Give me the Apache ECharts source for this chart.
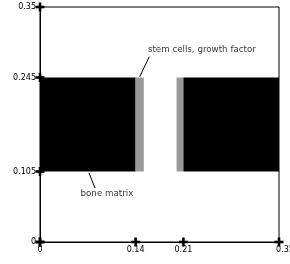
<!DOCTYPE html>
<html>
<head>
<meta charset="utf-8">
<script src="https://cdn.jsdelivr.net/npm/echarts@6/dist/echarts.min.js"></script>
<style>
  html, body { margin: 0; padding: 0; background: #fff; }
  #main { width: 290px; height: 264px; }
</style>
</head>
<body>
<div id="main"></div>
<script>
// tick positions on the two axes
var xTicks = [0, 0.14, 0.21, 0.35];
var yTicks = [0, 0.105, 0.245, 0.35];

// layered blocks: [x start, x end, y bottom, y top, kind]
var blocks = [
    [0, 0.14, 0.105, 0.245, 'matrix'],
    [0.14, 0.152, 0.105, 0.245, 'cells'],
    [0.2, 0.21, 0.105, 0.245, 'cells'],
    [0.21, 0.35, 0.105, 0.245, 'matrix']
];

// annotations: text, anchor of text, leader line start/end
var notes = [
    { text: 'stem cells, growth factor', at: [0.158, 0.286], from: [0.160, 0.276], to: [0.146, 0.246], pos: 'right' },
    { text: 'bone matrix', at: [0.098, 0.0715], from: [0.0805, 0.0805], to: [0.0717, 0.103], pos: 'inside' }
];

var colors = { matrix: '#000000', cells: '#999999' };
var font = 'DejaVu Sans';

var tickMarks = xTicks.map(function (x) { return [x, 0]; })
    .concat(yTicks.map(function (y) { return [0, y]; }));

var series = [{
    type: 'custom',
    data: blocks,
    renderItem: function (params, api) {
        var p0 = api.coord([api.value(0), api.value(3)]);
        var p1 = api.coord([api.value(1), api.value(2)]);
        return {
            type: 'rect',
            shape: { x: p0[0], y: p0[1], width: p1[0] - p0[0], height: p1[1] - p0[1] },
            style: { fill: colors[blocks[params.dataIndex][4]] }
        };
    },
    z: 2
}];

notes.forEach(function (n) {
    series.push({
        type: 'line',
        data: [n.from, n.to],
        symbol: 'none',
        lineStyle: { color: '#000', width: 1 },
        z: 3
    });
    series.push({
        type: 'scatter',
        data: [n.at],
        symbolSize: 0,
        label: {
            show: true,
            position: n.pos,
            distance: 0,
            formatter: n.text,
            color: '#000',
            fontFamily: font,
            fontSize: 8.7
        },
        z: 3
    });
});

// "+" tick marks
series.push({
    type: 'custom',
    data: tickMarks,
    clip: false,
    renderItem: function (params, api) {
        var c = api.coord([api.value(0), api.value(1)]);
        var h = 4.5, t = 1.3;
        return {
            type: 'group',
            children: [
                { type: 'rect', shape: { x: c[0] - h, y: c[1] - t, width: 2 * h, height: 2 * t }, style: { fill: '#000' } },
                { type: 'rect', shape: { x: c[0] - t, y: c[1] - h, width: 2 * t, height: 2 * h }, style: { fill: '#000' } }
            ]
        };
    },
    z: 5
});

var option = {
    animation: false,
    grid: {
        left: 40, top: 7, right: 11, bottom: 22,
        outerBoundsMode: 'none',
        show: true, borderColor: '#000', borderWidth: 1
    },
    xAxis: {
        type: 'value', min: 0, max: 0.35,
        splitLine: { show: false },
        axisTick: { show: false },
        axisLine: { lineStyle: { color: '#000', width: 1 } },
        axisLabel: {
            customValues: xTicks,
            margin: 4,
            color: '#000',
            fontFamily: font,
            fontSize: 8,
            formatter: function (v) {
                return v === 0.35 ? '{e|0.35}' : String(v);
            },
            rich: { e: { padding: [0, 0, 0, 12], fontFamily: font, fontSize: 8, color: '#000' } }
        }
    },
    yAxis: {
        type: 'value', min: 0, max: 0.35,
        splitLine: { show: false },
        axisTick: { show: false },
        axisLine: { lineStyle: { color: '#000', width: 1 } },
        axisLabel: {
            customValues: yTicks,
            margin: 4,
            color: '#000',
            fontFamily: font,
            fontSize: 8
        }
    },
    series: series
};

var myChart = echarts.init(document.getElementById('main'));
myChart.setOption(option);
</script>
</body>
</html>
